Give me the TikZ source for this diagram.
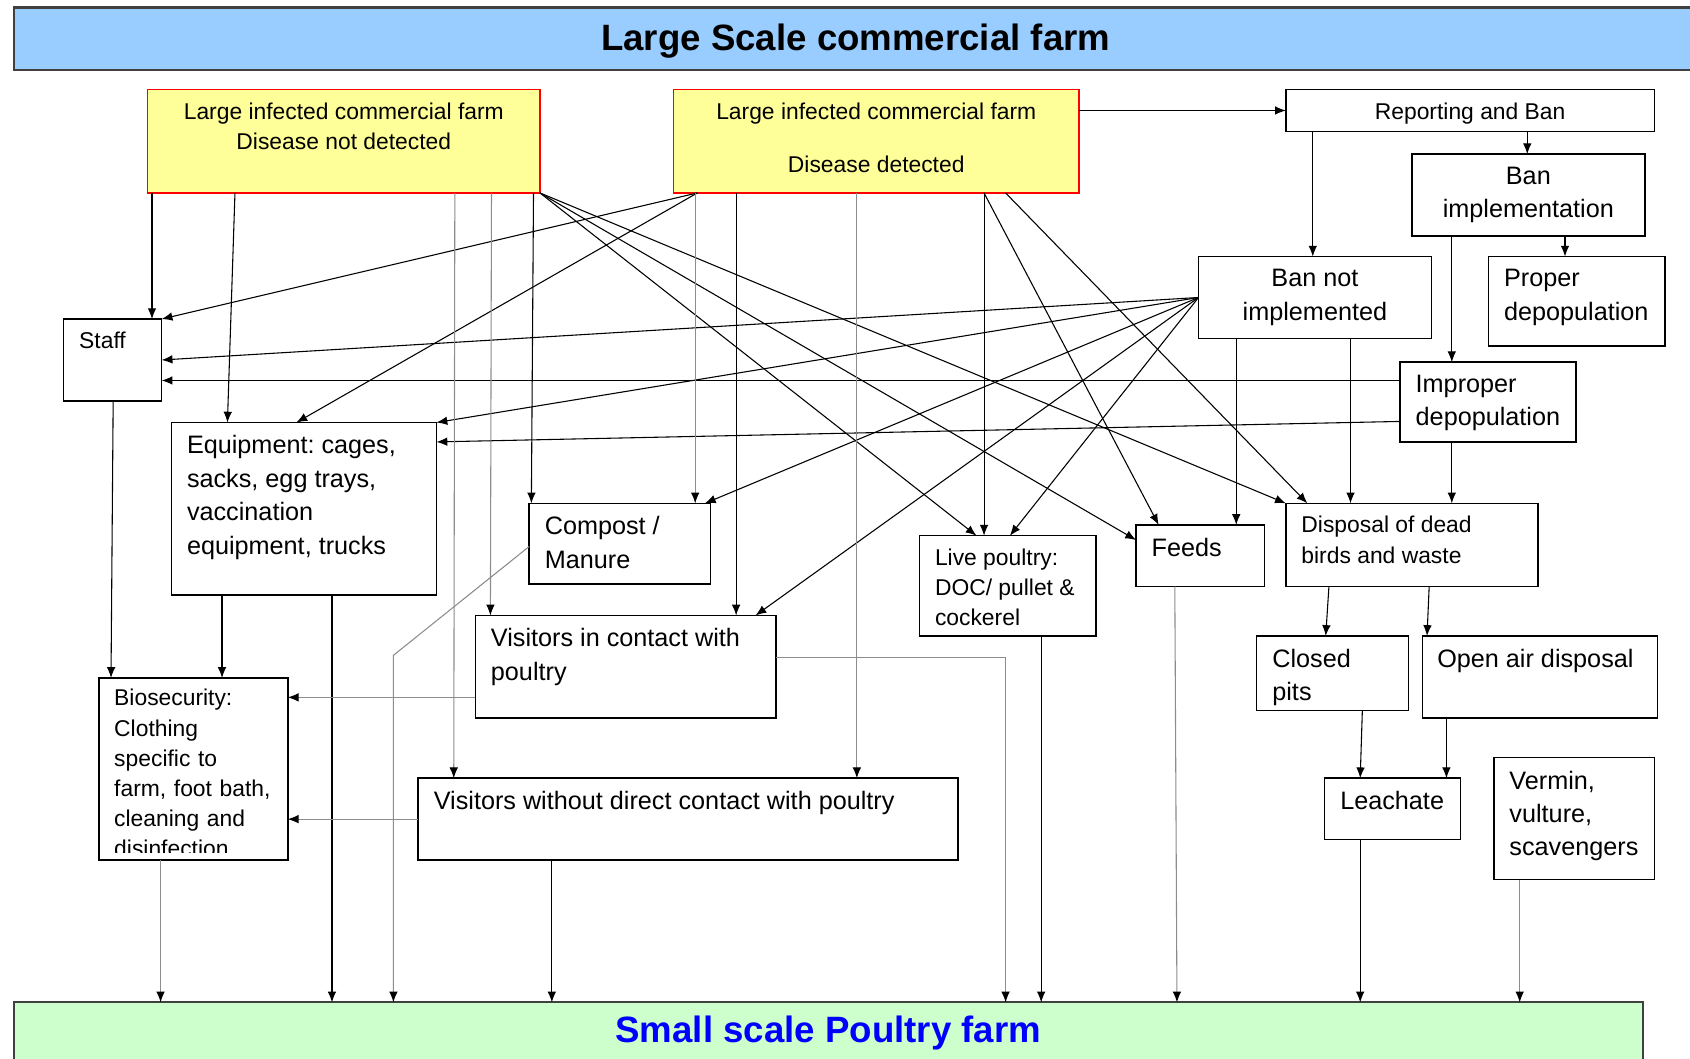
\documentclass[tikz,border=0pt]{standalone}
\usepackage{fontspec}
\setmainfont{Liberation Sans}
\frenchspacing
\usetikzlibrary{arrows.meta,fit}
\definecolor{bannerblue}{HTML}{99CCFF}
\definecolor{bannergreen}{HTML}{CCFFCC}
\definecolor{farmyellow}{HTML}{FFFF99}
\newcommand{\smallsf}{\fontsize{10.6pt}{14pt}\selectfont}
\newcommand{\bigsf}{\fontsize{11.7pt}{15.5pt}\selectfont}
\newcommand{\bannersf}{\bfseries\fontsize{17pt}{20pt}\selectfont}

\begin{document}
\begin{tikzpicture}[x=0.5pt,y=-0.5pt,->,>={Latex[length=5pt,width=4pt,color=black]},line width=0.5pt,
  box/.style={draw,line width=0.7pt,inner sep=0pt,outer sep=0pt},
  farm/.style={box,fill=farmyellow,draw=red},
  banner/.style={draw=black!75,line width=1pt,inner sep=0pt,outer sep=0pt},
  lbl/.style={anchor=north west,align=left,inner xsep=7pt,inner ysep=5.8pt,font=\bigsf},
  lbls/.style={lbl,font=\smallsf},
  lblc/.style={anchor=north,align=center,inner sep=0pt,inner ysep=5.8pt,font=\smallsf},
  faint/.style={black!45}]

  \useasboundingbox (0,0) rectangle (1568,982);
  \clip (0,0) rectangle (1568,982);

  % banners
  \node[banner,fill=bannerblue,fit={(13,7)(1575,65)},
    label={[font=\bannersf,yshift=-1pt]center:Large Scale commercial farm}] (top) {};
  \node[banner,fill=bannergreen,fit={(13,930)(1524,996)},
    label={[font=\bannersf,text=blue,yshift=2.5pt]center:Small scale Poultry farm}] (base) {};

  % source farms
  \node[farm,fit={(137,83)(501,179)},label={[lblc]north:{Large infected commercial farm\\Disease not detected}}] (nd) {};
  \node[farm,fit={(625,83)(1001,179)},label={[lblc]north:{Large infected commercial farm\\[11pt]Disease detected}}] (det) {};

  % reporting branch
  \node[box,fit={(1193,83)(1535,122)},label={[lblc]north:Reporting and Ban}] (report) {};
  \node[box,fit={(1310,143)(1526,219)},label={[lblc,font=\bigsf]north:{Ban\\implementation}}] (banimp) {};
  \node[box,fit={(1112,238)(1328,314)},label={[lblc,font=\bigsf]north:{Ban not\\implemented}}] (banno) {};
  \node[box,fit={(1381,238)(1545,321)},label={[lbl]north west:{Proper\\depopulation}}] (proper) {};
  \node[box,fit={(1299,336)(1462,410)},label={[lbl]north west:{Improper\\depopulation}}] (improper) {};

  % pathways
  \node[box,fit={(59,296)(150,372)},label={[lbls]north west:Staff}] (staff) {};
  \node[box,fit={(159,392)(405,552)},label={[lbl]north west:{Equipment: cages,\\sacks, egg trays,\\vaccination\\equipment, trucks}}] (equip) {};
  \node[box,fit={(491,467)(659,542)},label={[lbl]north west:{Compost /\\Manure}}] (compost) {};
  \node[box,fit={(441,571)(720,666)},label={[lbl]north west:{Visitors in contact with\\poultry}}] (visc) {};
  \node[box,fit={(388,722)(889,798)},label={[lbl]north west:Visitors without direct contact with poultry}] (visnc) {};
  \node[box,fit={(92,629)(267,798)},path picture={
      \clip (path picture bounding box.north west) rectangle ([yshift=3.5pt]path picture bounding box.south east);
      \node[lbls] (biotext) at (path picture bounding box.north west)
        {Biosecurity:\\Clothing\\specific to\\farm, foot bath,\\cleaning and\\disinfection};}] (bio) {};
  \node[box,fit={(853,497)(1017,590)},label={[lbls]north west:{Live poultry:\\DOC/ pullet \&\\cockerel}}] (live) {};
  \node[box,fit={(1054,487)(1173,544)},label={[lbl]north west:Feeds}] (feeds) {};
  \node[box,fit={(1193,467)(1427,544)},label={[lbls]north west:{Disposal of dead\\birds and waste}}] (disposal) {};
  \node[box,fit={(1166,590)(1307,659)},label={[lbl]north west:{Closed\\pits}}] (closed) {};
  \node[box,fit={(1320,590)(1538,666)},label={[lbl,inner xsep=6.5pt]north west:Open air disposal}] (openair) {};
  \node[box,fit={(1229,722)(1355,779)},label={[lbl]north west:Leachate}] (leach) {};
  \node[box,fit={(1386,703)(1535,816)},label={[lbl]north west:{Vermin,\\vulture,\\scavengers}}] (vermin) {};

  \coordinate (compostbend) at (365,608);
  \coordinate (viscbend) at (933,610);

  \path
    % disease not detected
    (nd.south -| 141,0) edge (staff.north -| 141,0)
    (nd.south -| 218,0) edge (equip.north -| 211,0)
    (nd.south -| 495,0) edge (compost.north -| 493,0)
    (nd.south east) edge (live.north -| 906,0)
    (nd.south east) edge (feeds.west |- 0,501)
    (nd.south east) edge (disposal.north west)
    % disease detected
    (det.south -| 647,0) edge (staff.north east)
    (det.south -| 647,0) edge (equip.north -| 275,0)
    (det.south -| 683,0) edge (visc.north -| 683,0)
    (det.south -| 913,0) edge (live.north -| 913,0)
    (det.south -| 913,0) edge (feeds.north -| 1075,0)
    (det.south -| 933,0) edge (disposal.north -| 1213,0)
    (det.east |- report.west) edge (report.west)
    % reporting and ban
    (report.south -| 1218,0) edge (banno.north -| 1218,0)
    (report.south -| 1417,0) edge (banimp.north -| 1417,0)
    (banimp.south -| 1452,0) edge (proper.north -| 1452,0)
    (banimp.south -| 1347,0) edge (improper.north -| 1347,0)
    % ban not implemented
    (banno.west) edge (staff.east |- 0,334)
    (banno.west) edge (equip.north east)
    (banno.west) edge (compost.north -| 654,0)
    (banno.west) edge (visc.north -| 701,0)
    (banno.west) edge (live.north -| 937,0)
    (banno.south -| 1147,0) edge (feeds.north -| 1147,0)
    (banno.south -| 1253,0) edge (disposal.north -| 1253,0)
    % improper depopulation
    (improper.west |- 0,353) edge (staff.east |- 0,353)
    (improper.west |- 0,391) edge (equip.east |- 0,410)
    (improper.south -| 1347,0) edge (disposal.north -| 1347,0)
    % onwards
    (staff.south -| 105,0) edge (bio.north -| 103,0)
    (equip.south -| 206,0) edge (bio.north -| 206,0)
    (equip.south -| 308,0) edge (base.north -| 308,0)
    (visnc.south -| 512,0) edge (base.north -| 512,0)
    (live.south -| 966,0) edge (base.north -| 966,0)
    (disposal.south -| 1233,0) edge (closed.north -| 1230,0)
    (disposal.south -| 1326,0) edge (openair.north -| 1324,0)
    (closed.south -| 1264,0) edge (leach.north -| 1262,0)
    (openair.south -| 1342,0) edge (leach.north -| 1342,0)
    (leach.south -| 1262,0) edge (base.north -| 1262,0);

  \begin{scope}[faint]
    \path
      (nd.south -| 422,0) edge (visnc.north -| 421,0)
      (nd.south -| 456,0) edge (visc.north -| 455,0)
      (det.south -| 645,0) edge (compost.north -| 645,0)
      (det.south -| 795,0) edge (visnc.north -| 795,0)
      (visc.west |- 0,647) edge (bio.east |- 0,647)
      (visnc.west |- 0,760) edge (bio.east |- 0,760)
      (bio.south -| 149,0) edge (base.north -| 149,0)
      (feeds.south -| 1090,0) edge (base.north -| 1092,0)
      (vermin.south -| 1410,0) edge (base.north -| 1410,0);
    \draw (compost.west |- 0,507) -- (compostbend) -- (base.north -| compostbend);
    \draw (visc.east |- 0,610) -- (viscbend) -- (base.north -| viscbend);
  \end{scope}

\end{tikzpicture}
\end{document}
